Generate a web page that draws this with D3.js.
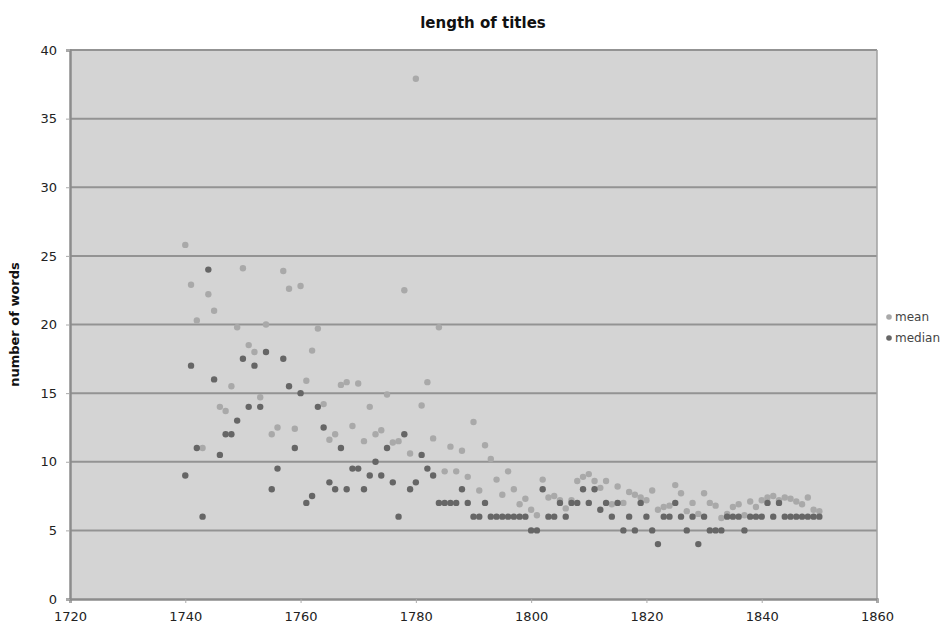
<!DOCTYPE html>
<html>
<head>
<meta charset="utf-8">
<script src="https://d3js.org/d3.v7.min.js"></script>
<style>
    body{
        margin: 0;
        background: #fff;
        font-family: "DejaVu Sans", Verdana, sans-serif;
    }
</style>
</head>
<body>
<script>
// years 1740 - 1850, one value per year
var years = d3.range(1740, 1851);

var meanWords = [
    25.8, 22.9, 20.3, 11.0, 22.2, 21.0, 14.0, 13.7, 15.5, 19.8,
    24.1, 18.5, 18.0, 14.7, 20.0, 12.0, 12.5, 23.9, 22.6, 12.4,
    22.8, 15.9, 18.1, 19.7, 14.2, 11.6, 12.0, 15.6, 15.8, 12.6,
    15.7, 11.5, 14.0, 12.0, 12.3, 14.9, 11.4, 11.5, 22.5, 10.6,
    37.9, 14.1, 15.8, 11.7, 19.8, 9.3, 11.1, 9.3, 10.8, 8.9,
    12.9, 7.9, 11.2, 10.2, 8.7, 7.6, 9.3, 8.0, 6.9, 7.3,
    6.5, 6.1, 8.7, 7.4, 7.5, 7.2, 6.6, 7.2, 8.6, 8.9,
    9.1, 8.6, 8.1, 8.6, 6.9, 8.2, 7.0, 7.8, 7.6, 7.4,
    7.2, 7.9, 6.5, 6.7, 6.8, 8.3, 7.7, 6.4, 7.0, 6.2,
    7.7, 7.0, 6.8, 5.9, 6.2, 6.7, 6.9, 6.1, 7.1, 6.7,
    7.2, 7.4, 7.5, 7.2, 7.4, 7.3, 7.1, 6.9, 7.4, 6.5,
    6.4
];

var medianWords = [
    9, 17, 11, 6, 24, 16, 10.5, 12, 12, 13,
    17.5, 14, 17, 14, 18, 8, 9.5, 17.5, 15.5, 11,
    15, 7, 7.5, 14, 12.5, 8.5, 8, 11, 8, 9.5,
    9.5, 8, 9, 10, 9, 11, 8.5, 6, 12, 8,
    8.5, 10.5, 9.5, 9, 7, 7, 7, 7, 8, 7,
    6, 6, 7, 6, 6, 6, 6, 6, 6, 6,
    5, 5, 8, 6, 6, 7, 6, 7, 7, 8,
    7, 8, 6.5, 7, 6, 7, 5, 6, 5, 7,
    6, 5, 4, 6, 6, 7, 6, 5, 6, 4,
    6, 5, 5, 5, 6, 6, 6, 5, 6, 6,
    6, 7, 6, 7, 6, 6, 6, 6, 6, 6,
    6
];

var xTicks = [1720, 1740, 1760, 1780, 1800, 1820, 1840, 1860];
var yTicks = [0, 5, 10, 15, 20, 25, 30, 35, 40];
var seriesNames = ["mean", "median"];
var seriesColors = ["#a9a9a9", "#666666"];

var margin = {top: 50, right: 70, bottom: 32, left: 70},
    width = 947 - margin.left - margin.right,
    height = 631 - margin.top - margin.bottom;

var svg = d3.select("body").append("svg")
    .attr("width", 947)
    .attr("height", 631);

var g = svg.append("g")
    .attr("transform", "translate(" + margin.left + "," + margin.top + ")");

var x = d3.scaleLinear().domain([1720, 1860]).range([0, width]);
var y = d3.scaleLinear().domain([0, 40]).range([height, 0]);

// plot background
g.append("rect")
    .attr("width", width)
    .attr("height", height)
    .attr("fill", "#d4d4d4");

// gridlines
g.append("g")
    .selectAll("line")
    .data(yTicks.filter(d => d > 0))
    .enter().append("line")
        .attr("x1", 0)
        .attr("x2", width)
        .attr("y1", d => y(d))
        .attr("y2", d => y(d))
        .attr("stroke", "#939393")
        .attr("stroke-width", 2);

// right border
g.append("line")
    .attr("x1", width).attr("x2", width)
    .attr("y1", 0).attr("y2", height)
    .attr("stroke", "#a0a0a0")
    .attr("stroke-width", 1.5);

// axes
var xAxis = g.append("g")
    .attr("transform", "translate(0," + height + ")")
    .call(d3.axisBottom(x).tickValues(xTicks).tickFormat(d3.format("d")).tickSize(4).tickPadding(9));

var yAxis = g.append("g")
    .call(d3.axisLeft(y).tickValues(yTicks).tickSize(4).tickPadding(9));

[xAxis, yAxis].forEach(a => {
    a.select(".domain").attr("stroke", "#8c8c8c").attr("stroke-width", 2.5);
    a.selectAll(".tick line").attr("stroke", "#aaa");
    a.selectAll("text")
        .attr("fill", "#222")
        .style("font-family", "DejaVu Sans, Verdana, sans-serif")
        .style("font-size", "13px");
});

// points
var allSeries = [meanWords, medianWords];
allSeries.forEach((vals, i) => {
    g.append("g")
        .selectAll("circle")
        .data(years.map((yr, j) => ({year: yr, v: vals[j]})))
        .enter().append("circle")
            .attr("cx", d => x(d.year))
            .attr("cy", d => y(d.v))
            .attr("r", 3.2)
            .attr("fill", seriesColors[i]);
});

// title
svg.append("text")
    .attr("x", 483)
    .attr("y", 28)
    .attr("text-anchor", "middle")
    .style("font-size", "15px")
    .style("font-weight", "bold")
    .attr("fill", "#111")
    .text("length of titles");

// y label
svg.append("text")
    .attr("transform", "translate(19," + (margin.top + height / 2) + ") rotate(-90)")
    .attr("text-anchor", "middle")
    .style("font-size", "13px")
    .style("font-weight", "bold")
    .attr("fill", "#111")
    .text("number of words");

// legend
var legend = svg.append("g")
    .attr("transform", "translate(889,317)");

seriesNames.forEach((name, i) => {
    legend.append("circle")
        .attr("cx", 0)
        .attr("cy", i * 21)
        .attr("r", 2.8)
        .attr("fill", seriesColors[i]);
    legend.append("text")
        .attr("x", 6)
        .attr("y", i * 21)
        .attr("dy", "0.35em")
        .style("font-size", "12px")
        .attr("fill", "#444")
        .text(name);
});
</script>
</body>
</html>
